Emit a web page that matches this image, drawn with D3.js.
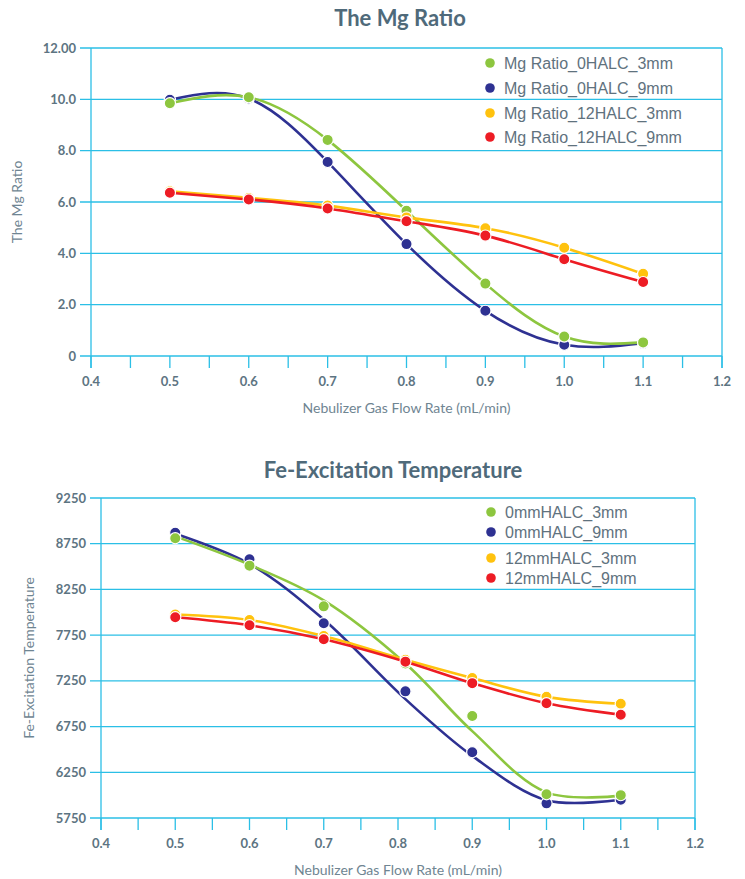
<!DOCTYPE html>
<html>
  <head>
    <style>
      body { margin: 0; background: #fff; }
      svg { display: block; }
      .tick-label { font-family: Lato, sans-serif; font-weight: 700; font-size: 13px; fill: #5d7482; }
      .axis-title { font-family: Lato, sans-serif; font-size: 14px; fill: #6f8592; }
      .chart-title { font-family: Lato, sans-serif; font-weight: 700; font-size: 22px; fill: #4f6a7a; }
      .legend-text { font-family: "Liberation Sans", Arial, sans-serif; font-size: 16px; fill: #5f727e; }
    </style>
  </head>
  <body>
    <svg width="745" height="879"></svg>
    <script src="https://cdn.jsdelivr.net/npm/d3@7/dist/d3.min.js"></script>
    <script>
      // ---- data: Mg ratio chart ----
      let mgX = [0.5, 0.6, 0.7, 0.8, 0.9, 1.0, 1.1];
      let mgNames = ["Mg Ratio_0HALC_3mm", "Mg Ratio_0HALC_9mm", "Mg Ratio_12HALC_3mm", "Mg Ratio_12HALC_9mm"];
      let mg0_3 = [9.85, 10.08, 8.42, 5.66, 2.82, 0.76, 0.53];
      let mg0_9 = [9.98, 10.03, 7.56, 4.36, 1.76, 0.44, 0.5];
      let mg12_3 = [6.42, 6.16, 5.86, 5.4, 4.98, 4.22, 3.2];
      let mg12_9 = [6.36, 6.1, 5.75, 5.25, 4.69, 3.77, 2.88];
      let mgTicks = [0, 2, 4, 6, 8, 10, 12];
      let mgTickLabels = ["0", "2.0", "4.0", "6.0", "8.0", "10.0", "12.00"];

      // ---- data: Fe excitation temperature chart ----
      let feX = [0.5, 0.6, 0.7, 0.81, 0.9, 1.0, 1.1];
      let feNames = ["0mmHALC_3mm", "0mmHALC_9mm", "12mmHALC_3mm", "12mmHALC_9mm"];
      let fe0_3 = [8810, 8510, 8065, 7440, 6865, 6010, 6000];
      let fe0_9 = [8870, 8580, 7880, 7135, 6470, 5910, 5950];
      let fe12_3 = [7975, 7915, 7740, 7480, 7280, 7075, 7000];
      let fe12_9 = [7945, 7858, 7705, 7460, 7225, 7005, 6880];
      // smoothed trend lines as drawn (green and blue do not pass through their points)
      let fe0_3Fit = [8830, 8520, 8130, 7440, 6700, 6030, 5995];
      let fe0_9Fit = [8860, 8530, 7920, 7050, 6430, 5945, 5950];
      let feTicks = [5750, 6250, 6750, 7250, 7750, 8250, 8750, 9250];

      let xTicks = [0.4, 0.5, 0.6, 0.7, 0.8, 0.9, 1.0, 1.1, 1.2];
      let minorTicks = d3.range(0.4, 1.2001, 0.05);
      let colors = ["#8dc63f", "#2e3192", "#ffc20e", "#ed1c24"];
      let gridColor = "#2bbfe6";

      let svg = d3.select("svg");

      function drawChart(opt) {
        let g = svg.append("g");
        let x = d3.scaleLinear().domain([0.4, 1.2]).range([opt.left, opt.right]);
        let y = d3.scaleLinear().domain(opt.yDomain).range([opt.bottom, opt.top]);

        // title
        g.append("text").attr("class", "chart-title")
          .attr("x", opt.titleX).attr("y", opt.titleY)
          .attr("text-anchor", "middle").text(opt.title);

        // horizontal gridlines + left ticks
        g.selectAll(".grid").data(opt.yTicks).enter().append("line")
          .attr("x1", opt.left - 11).attr("x2", opt.right)
          .attr("y1", (d) => y(d)).attr("y2", (d) => y(d))
          .attr("stroke", gridColor).attr("stroke-width", 1.3);
        g.selectAll(".ylab").data(opt.yTicks).enter().append("text")
          .attr("class", "tick-label")
          .attr("x", opt.left - 15).attr("y", (d) => y(d) + 4.5)
          .attr("text-anchor", "end")
          .text((d, i) => opt.yLabels[i]);

        // vertical frame lines at both ends
        g.selectAll(".vframe").data([0.4, 1.2]).enter().append("line")
          .attr("x1", (d) => x(d)).attr("x2", (d) => x(d))
          .attr("y1", opt.top).attr("y2", opt.bottom + 12)
          .attr("stroke", gridColor).attr("stroke-width", 1.3);
        // minor ticks below the axis
        g.selectAll(".mtick").data(minorTicks).enter().append("line")
          .attr("x1", (d) => x(d)).attr("x2", (d) => x(d))
          .attr("y1", opt.bottom).attr("y2", opt.bottom + 12)
          .attr("stroke", gridColor).attr("stroke-width", 1.3);
        g.selectAll(".xlab").data(xTicks).enter().append("text")
          .attr("class", "tick-label")
          .attr("x", (d) => x(d)).attr("y", opt.bottom + 30)
          .attr("text-anchor", "middle")
          .text((d) => d.toFixed(1));

        // axis titles
        g.append("text").attr("class", "axis-title")
          .attr("x", (opt.left + opt.right) / 2).attr("y", opt.bottom + 57)
          .attr("text-anchor", "middle").text("Nebulizer Gas Flow Rate (mL/min)");
        g.append("text").attr("class", "axis-title")
          .attr("transform", `translate(${opt.yTitleX},${(opt.top + opt.bottom) / 2}) rotate(-90)`)
          .attr("text-anchor", "middle").text(opt.yTitle);

        // series: draw blue first so green sits above it
        let order = [1, 0, 2, 3];
        let line = d3.line().curve(opt.curve).x((d) => x(d[0])).y((d) => y(d[1]));
        order.forEach((k) => {
          let pts = opt.xs.map((v, i) => [v, opt.series[k][i]]);
          let fit = opt.xs.map((v, i) => [v, opt.lines[k][i]]);
          g.append("path").datum(fit)
            .attr("d", line).attr("fill", "none")
            .attr("stroke", colors[k]).attr("stroke-width", 2.6);
          g.selectAll(null).data(pts).enter().append("circle")
            .attr("cx", (d) => x(d[0])).attr("cy", (d) => y(d[1]))
            .attr("r", 5.6).attr("fill", colors[k])
            .attr("stroke", "#fff").attr("stroke-width", 1.2);
        });

        // legend
        opt.names.forEach((name, i) => {
          let ly = opt.legendY[i];
          g.append("circle").attr("cx", opt.legendX).attr("cy", ly)
            .attr("r", 4.8).attr("fill", colors[i]);
          g.append("text").attr("class", "legend-text")
            .attr("x", opt.legendX + 14).attr("y", ly + 5.8).text(name);
        });
      }

      drawChart({
        title: "The Mg Ratio", titleX: 400, titleY: 26,
        left: 91, right: 722, top: 48, bottom: 356,
        yDomain: [0, 12], yTicks: mgTicks, yLabels: mgTickLabels,
        yTitle: "The Mg Ratio", yTitleX: 22,
        xs: mgX, series: [mg0_3, mg0_9, mg12_3, mg12_9],
        lines: [mg0_3, mg0_9, mg12_3, mg12_9], curve: d3.curveNatural,
        names: mgNames, legendX: 490, legendY: [63, 88, 113, 137]
      });

      drawChart({
        title: "Fe-Excitation Temperature", titleX: 393, titleY: 478,
        left: 101, right: 695, top: 498, bottom: 818,
        yDomain: [5750, 9250], yTicks: feTicks, yLabels: feTicks.map(String),
        yTitle: "Fe-Excitation Temperature", yTitleX: 34,
        xs: feX, series: [fe0_3, fe0_9, fe12_3, fe12_9],
        lines: [fe0_3Fit, fe0_9Fit, fe12_3, fe12_9], curve: d3.curveCatmullRom.alpha(0.5),
        names: feNames, legendX: 491, legendY: [512, 532, 558, 578]
      });
    </script>
  </body>
</html>
